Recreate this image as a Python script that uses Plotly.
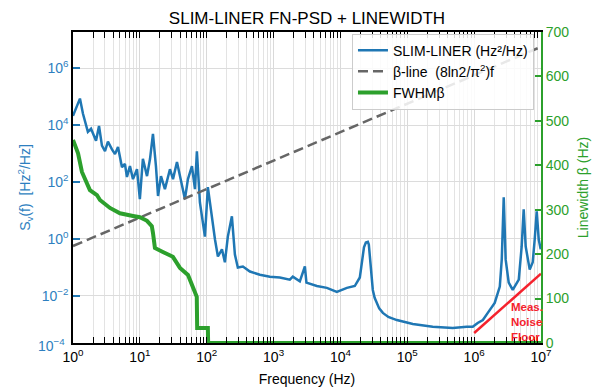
import plotly.graph_objects as go

# ---- data ----
psd_freq = [1, 1.07, 1.19, 1.27, 1.41, 1.51, 1.62, 1.67, 1.86, 1.99, 2.21, 2.45, 2.71, 3.01, 3.33,
            3.83, 4.25, 4.71, 5.40, 5.98, 6.41, 7.11, 7.89, 9.06, 10.0, 11.1, 12.8, 14.2, 15.7,
            17.4, 18.7, 20.7, 23.7, 28.2, 31.3, 35.9, 39.8, 47.2, 52.4, 60.1, 66.7, 71.3, 79.1,
            87.7, 94.0, 104, 120, 133, 147, 169, 187, 207, 238, 264, 292, 348, 443, 624, 881,
            1240, 1750, 1940, 2470, 2940, 3100, 4440, 6270, 8830, 12500, 16400, 19500, 20600,
            21600, 22500, 24000, 25700, 26600, 28400, 29500, 30500, 32500, 35000, 38000, 43100,
            52000, 69700, 121000, 240000, 479000, 774000, 953000, 1.13e6, 1.35e6, 1.60e6, 2.03e6,
            2.42e6, 2.59e6, 2.77e6, 2.96e6, 3.29e6, 3.78e6, 4.65e6, 5.14e6, 5.51e6, 5.90e6,
            6.78e6, 7.52e6, 8.05e6, 8.63e6, 9.25e6, 9.9e6]
psd_vals = [2.1e4, 3.2e4, 5.6e4, 8.5e4, 2.5e4, 1.4e4, 9.3e3, 5.8e3, 7.4e3, 4.9e3, 2.8e3, 9.3e3,
            1.9e3, 1.2e3, 2.6e3, 1.4e3, 950, 1.7e3, 330, 430, 150, 360, 126, 280, 25, 650, 160,
            650, 4.9e3, 360, 32, 160, 56, 280, 126, 500, 160, 25, 126, 360, 56, 1.2e3, 19, 3.2,
            1.2, 66, 4.9, 0.95, 0.24, 0.43, 0.15, 1.2, 6.2, 0.28, 0.098, 0.107, 0.071, 0.055,
            0.047, 0.044, 0.037, 0.047, 0.032, 0.107, 0.029, 0.022, 0.019, 0.0138, 0.019, 0.022,
            0.044, 0.1, 0.24, 0.5, 0.74, 0.78, 0.63, 0.107, 0.04, 0.016, 0.0085, 0.0056, 0.0036,
            0.0025, 0.0018, 0.0014, 0.00102, 8.1e-4, 7.4e-4, 8.1e-4, 8.1e-4, 1.1e-3, 1.4e-3,
            2.5e-3, 5.6e-3, 0.021, 0.19, 29, 0.19, 0.029, 0.016, 0.037, 0.54, 11, 0.54, 0.083,
            0.15, 0.95, 9.3, 0.95, 0.43]

beta_freq = [1, 1e7]
beta_vals = [0.5618, 5.618e6]

fwhm_freq = [1, 1.19, 1.36, 1.62, 1.79, 2.28, 2.53, 3.57, 5.04, 7.9, 10, 12.8, 15.1, 15.7, 16.8,
             22.1, 31.2, 39.8, 52.5, 62, 71, 72, 104, 105, 1e7]
fwhm_vals = [457, 427, 385, 362, 344, 333, 322, 304, 292, 286, 283, 275, 263, 248, 214,
             205, 194, 169, 153, 126, 104, 34, 34, 0, 0]

floor_freq = [1e6, 1e7]
floor_vals = [4.9e-4, 0.06]

y_tickvals = [1e-2, 1, 1e2, 1e4, 1e6]
y_ticktext = ["10<sup>\u22122</sup>", "10<sup>0</sup>", "10<sup>2</sup>", "10<sup>4</sup>", "10<sup>6</sup>"]
x_tickvals = [1, 10, 100, 1e3, 1e4, 1e5, 1e6, 1e7]
x_ticktext = ["10<sup>%d</sup>" % k for k in range(8)]

BLUE = "#1f77b4"
BLUE_TXT = "#2e7fc0"
GREEN = "#2ca02c"
GRAY = "#666666"
RED = "#f5222d"
FONT = "Liberation Sans, Arial, sans-serif"

fig = go.Figure()
fig.add_trace(go.Scatter(x=psd_freq, y=psd_vals, mode="lines", name="SLIM-LINER (Hz\u00b2/Hz)",
                         line=dict(color=BLUE, width=2.5), yaxis="y"))
fig.add_trace(go.Scatter(x=beta_freq, y=beta_vals, mode="lines",
                         name="\u03b2-line  (8ln2/\u03c0<sup>2</sup>)f",
                         line=dict(color=GRAY, width=2.5, dash="10px,5px"), yaxis="y"))
fig.add_trace(go.Scatter(x=floor_freq, y=floor_vals, mode="lines", showlegend=False,
                         line=dict(color=RED, width=2.5), yaxis="y"))
fig.add_trace(go.Scatter(x=fwhm_freq, y=fwhm_vals, mode="lines", name="FWHM\u03b2",
                         line=dict(color=GREEN, width=4), yaxis="y2"))

fig.update_layout(
    width=598, height=390,
    margin=dict(l=73, r=57, t=32, b=47, autoexpand=False),
    paper_bgcolor="white", plot_bgcolor="white",
    font=dict(family=FONT, size=14, color="black"),
    title=dict(text="SLIM-LINER FN-PSD + LINEWIDTH", x=0.5, xref="paper", xanchor="center",
               y=1 - 18 / 390, yref="container", yanchor="middle",
               font=dict(size=17, color="black")),
    xaxis=dict(type="log", range=[0, 7], tickmode="array", tickvals=x_tickvals, ticktext=x_ticktext,
               ticks="inside", ticklen=6, tickcolor="black", tickfont=dict(size=14),
               showgrid=True, gridcolor="#d9d9d9", gridwidth=1,
               minor=dict(dtick="D1", ticks="inside", ticklen=4, tickcolor="black",
                          showgrid=True, gridcolor="#e3e3e3", gridwidth=1),
               showline=True, linecolor="black", linewidth=1.5, mirror="allticks",
               title=dict(text="Frequency (Hz)", font=dict(size=14), standoff=11),
               automargin=False, zeroline=False),
    yaxis=dict(type="log", range=[-3.66, 7.27], tickmode="array", tickvals=y_tickvals,
               ticktext=y_ticktext, ticks="inside", ticklen=7, tickcolor=BLUE, tickwidth=1.5,
               tickfont=dict(size=14, color=BLUE_TXT),
               showgrid=True, gridcolor="#dcdcdc", gridwidth=1,
               showline=True, linecolor="black", linewidth=1.5,
               title=dict(text="S<sub>v</sub>(f)  [Hz<sup>2</sup>/Hz]", font=dict(size=14, color=BLUE_TXT),
                          standoff=8),
               automargin=False, zeroline=False),
    yaxis2=dict(overlaying="y", side="right", range=[0, 700], dtick=100, tick0=0,
                ticks="inside", ticklen=6, tickcolor=GREEN, tickwidth=1.5,
                tickfont=dict(size=14, color=GREEN), showgrid=False,
                showline=True, linecolor=GREEN, linewidth=2,
                title=dict(text="Linewidth \u03b2 (Hz)", font=dict(size=14, color=GREEN), standoff=10),
                automargin=False, zeroline=False),
    legend=dict(x=0.985, y=0.995, xanchor="right", yanchor="top",
                bgcolor="rgba(255,255,255,0.85)", bordercolor="#cccccc", borderwidth=1,
                font=dict(size=14, color="black"), itemwidth=30, tracegroupgap=0),
    showlegend=True,
)

fig.add_annotation(text="<b>Meas.<br>Noise<br>Floor</b>", xref="paper", yref="paper",
                   x=0.932, y=0.068, xanchor="left", yanchor="middle", align="left",
                   showarrow=False, font=dict(size=11.5, color=RED, family=FONT))
fig.add_annotation(text="10<sup>\u22124</sup>", xref="paper", yref="paper",
                   x=-0.012, y=-0.008, xanchor="right", yanchor="middle", showarrow=False,
                   font=dict(size=14, color=BLUE_TXT, family=FONT))

fig.write_html("out.html")
